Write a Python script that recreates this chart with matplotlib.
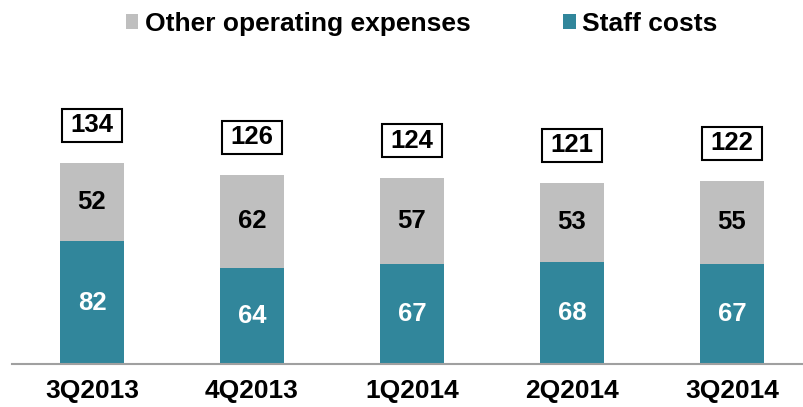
import matplotlib
matplotlib.use('Agg')
import matplotlib.pyplot as plt
from matplotlib.patches import Rectangle
import numpy as np

quarters = ['3Q2013', '4Q2013', '1Q2014', '2Q2014', '3Q2014']
staff = [82, 64, 67, 68, 67]
other = [52, 62, 57, 53, 55]
totals = [134, 126, 124, 121, 122]

TEAL = '#31869B'
GREY = '#BFBFBF'

plt.rcParams.update({'font.family': ['Liberation Sans', 'DejaVu Sans'],
                     'font.weight': 'bold', 'font.size': 19})

fig = plt.figure(figsize=(8.04, 4.07), dpi=100)
ax = fig.add_axes([12 / 804, 43 / 407, 792 / 804, 300 / 407])

x = np.arange(len(quarters))
b1 = ax.bar(x, staff, width=0.4, color=TEAL, label='Staff costs')
b2 = ax.bar(x, other, width=0.4, bottom=staff, color=GREY,
            label='Other operating expenses')

# segment values and boxed totals
for xi, s, o, t in zip(x, staff, other, totals):
    ax.text(xi, s / 2, str(s), ha='center', va='center', color='white',
            fontsize=18.5, fontweight='bold')
    ax.text(xi, s + o / 2, str(o), ha='center', va='center', color='black',
            fontsize=18.5, fontweight='bold')
    ax.add_patch(Rectangle((xi - 0.1875, t + 14), 0.375, 22, fc='white',
                           ec='black', lw=1.5, zorder=3))
    ax.text(xi, t + 25, str(t), ha='center', va='center', color='black',
            fontsize=18.5, fontweight='bold', zorder=4)

ax.set_xlim(-0.5, 4.45)
ax.set_ylim(0, 200)
ax.set_xticks(x)
ax.set_xticklabels(quarters, fontsize=19, fontweight='bold')
ax.tick_params(axis='x', length=0, pad=11)
ax.set_yticks([])
for side in ('top', 'right', 'left'):
    ax.spines[side].set_visible(False)
ax.spines['bottom'].set_color('#A0A0A0')
ax.spines['bottom'].set_linewidth(1.5)

fig.legend(handles=[b2, b1], loc='center', bbox_to_anchor=(0.524, 0.941),
           ncol=2, frameon=False, handlelength=0.49, handleheight=0.49,
           handletextpad=0.23, columnspacing=3.5,
           prop={'size': 19, 'weight': 'bold'})

fig.savefig('out.png', dpi=100)
